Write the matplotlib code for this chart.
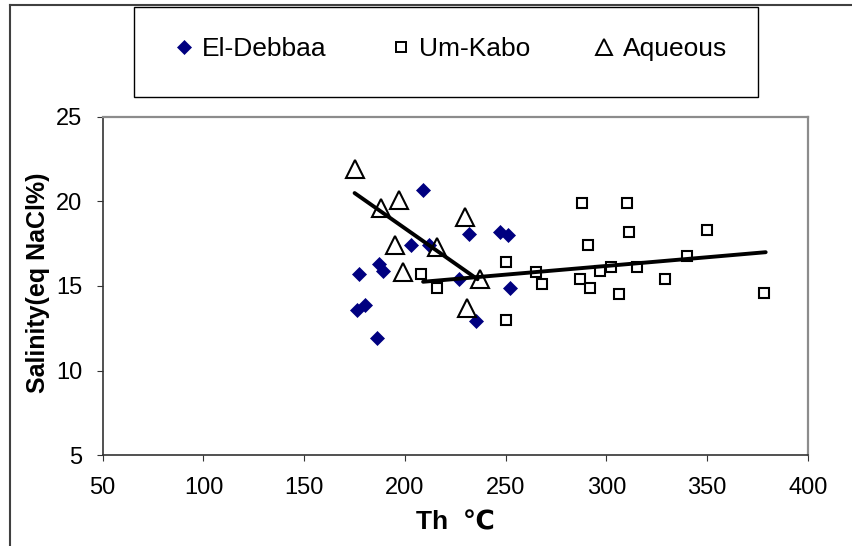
import matplotlib
matplotlib.use("Agg")
import matplotlib.pyplot as plt
from matplotlib.lines import Line2D
from matplotlib.patches import Rectangle

plt.rcParams['font.family'] = ['Liberation Sans', 'DejaVu Sans']

# ---- data ----
debbaa_x = [176, 177, 180, 186, 187, 189, 203, 209, 212, 227, 232, 235, 247, 251, 252]
debbaa_y = [13.6, 15.7, 13.9, 11.9, 16.3, 15.9, 17.4, 20.7, 17.4, 15.4, 18.1, 12.9, 18.2, 18.0, 14.9]

kabo_x = [208, 216, 250, 250, 265, 268, 287, 288, 291, 292, 297, 302, 306, 310, 311, 315, 329, 340, 350, 378]
kabo_y = [15.7, 14.9, 16.4, 13.0, 15.8, 15.1, 15.4, 19.9, 17.4, 14.9, 15.9, 16.1, 14.5, 19.9, 18.2, 16.1, 15.4, 16.8, 18.3, 14.6]

aq_x = [175, 188, 197, 195, 216, 199, 230, 231, 237]
aq_y = [21.9, 19.6, 20.1, 17.4, 17.3, 15.8, 19.1, 13.7, 15.4]

trend_aq_x = [175, 236]
trend_aq_y = [20.5, 15.4]
trend_kabo_x = [209, 379]
trend_kabo_y = [15.25, 17.0]

labels = ["El-Debbaa", "Um-Kabo", "Aqueous"]
xticks = [50, 100, 150, 200, 250, 300, 350, 400]
yticks = [5, 10, 15, 20, 25]

W, H = 853, 546
fig = plt.figure(figsize=(W / 100, H / 100), dpi=100)
ax = fig.add_axes([102.7 / W, 91 / H, 705.3 / W, 338 / H])

navy = '#000080'
ax.plot(debbaa_x, debbaa_y, linestyle='none', marker='D', ms=7.3, mfc=navy, mec=navy, mew=0.5, zorder=3)
ax.plot(kabo_x, kabo_y, linestyle='none', marker='s', ms=7, mfc='white', mec='black', mew=1.5, zorder=3)
ax.plot(aq_x, aq_y, linestyle='none', marker='^', ms=12.5, mfc='none', mec='black', mew=1.5, zorder=3)
ax.plot(trend_aq_x, trend_aq_y, color='black', lw=2.8, solid_capstyle='round', zorder=4)
ax.plot(trend_kabo_x, trend_kabo_y, color='black', lw=2.8, solid_capstyle='round', zorder=4)

ax.set_xlim(50, 400)
ax.set_ylim(5, 25)
ax.set_xticks(xticks)
ax.set_yticks(yticks)
ax.tick_params(axis='both', direction='out', labelsize=17, colors='#333333', labelcolor='black')
ax.tick_params(axis='x', length=4, pad=12)
ax.tick_params(axis='y', length=4.5, pad=10)

for s in ['left', 'bottom']:
    ax.spines[s].set_color('#333333')
    ax.spines[s].set_linewidth(1.2)
for s in ['top', 'right']:
    ax.spines[s].set_color('#8c8c8c')
    ax.spines[s].set_linewidth(1.6)

ax.set_xlabel("Th  \u2103", fontsize=19, fontweight='bold')
ax.xaxis.set_label_coords(0.5, -0.165)
ax.set_ylabel("Salinity(eq NaCl%)", fontsize=18, fontweight='bold')
ax.yaxis.set_label_coords(-0.075, 0.51)

# outer border (partially visible in the reference)
fig.add_artist(Line2D([10 / W, 10 / W], [0, 1 - 5 / H], transform=fig.transFigure, color='#404040', lw=1.5))
fig.add_artist(Line2D([10 / W, 1], [1 - 5 / H, 1 - 5 / H], transform=fig.transFigure, color='#404040', lw=1.5))

# legend box
fig.add_artist(Rectangle((134 / W, 1 - 97 / H), (758 - 134) / W, 90 / H, transform=fig.transFigure,
                         facecolor='white', edgecolor='black', lw=1.0))
handles = [
    Line2D([], [], linestyle='none', marker='D', ms=6.8, mfc=navy, mec=navy, mew=0.5),
    Line2D([], [], linestyle='none', marker='s', ms=7, mfc='white', mec='black', mew=1.4),
    Line2D([], [], linestyle='none', marker='^', ms=12, mfc='none', mec='black', mew=1.4),
]
leg = fig.legend(handles, labels, loc='center', bbox_to_anchor=(450 / W, 1 - 49 / H), ncol=3,
                 frameon=False, fontsize=19, handlelength=0.8, handletextpad=0.3, columnspacing=2.4,
                 borderpad=0, borderaxespad=0)

fig.savefig("out.png", dpi=100)
